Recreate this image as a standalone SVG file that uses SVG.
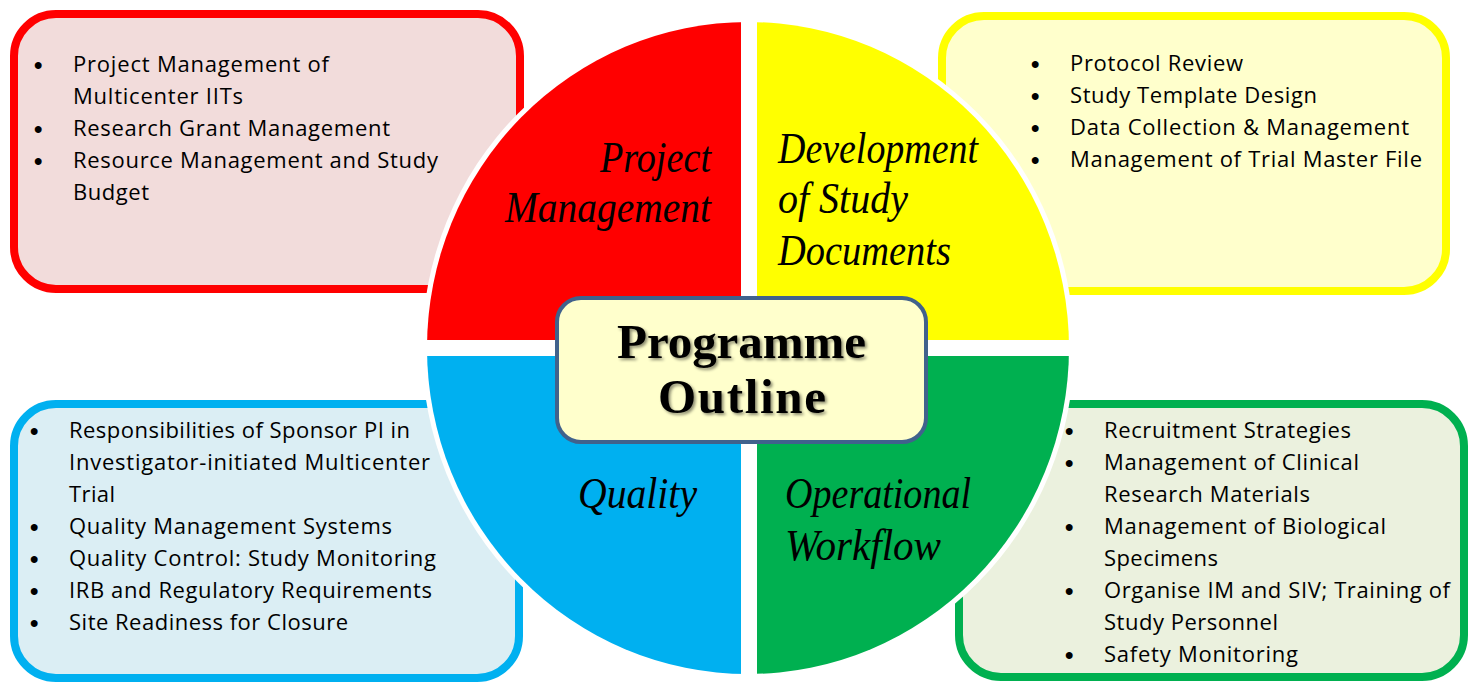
<svg xmlns="http://www.w3.org/2000/svg" width="1472" height="683" viewBox="0 0 1472 683">
<style>
.box{stroke-width:8}
.t{font-family:"Open Sans","Liberation Sans",sans-serif;font-size:22px;fill:#000}
.b{font-family:"Liberation Sans",sans-serif;font-size:24px;font-weight:bold;fill:#000}
.lbl{font-family:"Liberation Serif",serif;font-style:italic;font-size:45px;fill:#000}
.ctr{font-family:"Liberation Serif",serif;font-weight:bold;font-size:49px;fill:#000}
</style>
<defs>
<clipPath id="circ"><ellipse cx="748" cy="348" rx="321" ry="326"/></clipPath>
<filter id="sh" x="-10%" y="-20%" width="120%" height="140%"><feDropShadow dx="2" dy="2" stdDeviation="1.5" flood-color="#000" flood-opacity="0.45"/></filter>
</defs>
<rect width="1472" height="683" fill="#fff"/>

<g id="box-project">
<rect class="box" x="14" y="14" width="506" height="275" rx="42" fill="#f2dcdb" stroke="#ff0000"/>
<text class="b" x="34" y="73">•</text><text class="t" x="73" y="72" textLength="256">Project Management of</text>
<text class="t" x="73" y="104" textLength="170">Multicenter IITs</text>
<text class="b" x="34" y="137">•</text><text class="t" x="73" y="136" textLength="317">Research Grant Management</text>
<text class="b" x="34" y="169">•</text><text class="t" x="73" y="168" textLength="365">Resource Management and Study</text>
<text class="t" x="73" y="200" textLength="76">Budget</text>
</g>

<g id="box-documents">
<rect class="box" x="942" y="16" width="504" height="275" rx="42" fill="#ffffcc" stroke="#ffff00"/>
<text class="b" x="1031" y="72">•</text><text class="t" x="1070" y="71" textLength="173">Protocol Review</text>
<text class="b" x="1031" y="104">•</text><text class="t" x="1070" y="103" textLength="247">Study Template Design</text>
<text class="b" x="1031" y="136">•</text><text class="t" x="1070" y="135" textLength="339">Data Collection &amp; Management</text>
<text class="b" x="1031" y="168">•</text><text class="t" x="1070" y="167" textLength="352">Management of Trial Master File</text>
</g>

<g id="box-quality">
<rect class="box" x="14" y="404" width="505" height="274" rx="42" fill="#dbeef4" stroke="#00b0f0"/>
<text class="b" x="30" y="439">•</text><text class="t" x="69" y="438" textLength="341">Responsibilities of Sponsor PI in</text>
<text class="t" x="69" y="470" textLength="361">Investigator-initiated Multicenter</text>
<text class="t" x="69" y="502" textLength="46">Trial</text>
<text class="b" x="30" y="535">•</text><text class="t" x="69" y="534" textLength="323">Quality Management Systems</text>
<text class="b" x="30" y="567">•</text><text class="t" x="69" y="566" textLength="367">Quality Control: Study Monitoring</text>
<text class="b" x="30" y="599">•</text><text class="t" x="69" y="598" textLength="363">IRB and Regulatory Requirements</text>
<text class="b" x="30" y="631">•</text><text class="t" x="69" y="630" textLength="279">Site Readiness for Closure</text>
</g>

<g id="box-workflow">
<rect class="box" x="959" y="404" width="505" height="273" rx="42" fill="#ebf1de" stroke="#00b050"/>
<text class="b" x="1065" y="439">•</text><text class="t" x="1104" y="438" textLength="247">Recruitment Strategies</text>
<text class="b" x="1065" y="471">•</text><text class="t" x="1104" y="470" textLength="255">Management of Clinical</text>
<text class="t" x="1104" y="502" textLength="206">Research Materials</text>
<text class="b" x="1065" y="535">•</text><text class="t" x="1104" y="534" textLength="282">Management of Biological</text>
<text class="t" x="1104" y="566" textLength="114">Specimens</text>
<text class="b" x="1065" y="599">•</text><text class="t" x="1104" y="598" textLength="346">Organise IM and SIV; Training of</text>
<text class="t" x="1104" y="630" textLength="174">Study Personnel</text>
<text class="b" x="1065" y="663">•</text><text class="t" x="1104" y="662" textLength="194">Safety Monitoring</text>
</g>

<ellipse cx="748" cy="348" rx="326" ry="331" fill="#fff"/>

<g clip-path="url(#circ)">
<g id="q-project">
<rect x="400" y="0" width="341" height="340" fill="#ff0000"/>
</g>
<g id="q-documents">
<rect x="757" y="0" width="341" height="340" fill="#ffff00"/>
</g>
<g id="q-quality">
<rect x="400" y="356" width="341" height="340" fill="#00b0f0"/>
</g>
<g id="q-workflow">
<rect x="757" y="356" width="341" height="340" fill="#00b050"/>
</g>
</g>

<g id="labels">
<text class="lbl" x="600" y="172" textLength="111" lengthAdjust="spacingAndGlyphs">Project</text>
<text class="lbl" x="505" y="222" textLength="206" lengthAdjust="spacingAndGlyphs">Management</text>
<text class="lbl" x="778" y="163" textLength="200" lengthAdjust="spacingAndGlyphs">Development</text>
<text class="lbl" x="778" y="213" textLength="130" lengthAdjust="spacingAndGlyphs">of Study</text>
<text class="lbl" x="778" y="265" textLength="173" lengthAdjust="spacingAndGlyphs">Documents</text>
<text class="lbl" x="578" y="508" textLength="119" lengthAdjust="spacingAndGlyphs">Quality</text>
<text class="lbl" x="785" y="508" textLength="186" lengthAdjust="spacingAndGlyphs">Operational</text>
<text class="lbl" x="785" y="560" textLength="156" lengthAdjust="spacingAndGlyphs">Workflow</text>
</g>

<g id="center">
<rect x="557" y="298" width="369" height="144" rx="24" fill="#ffffcc" stroke="#41628c" stroke-width="4"/>
<g filter="url(#sh)">
<text class="ctr" x="617" y="358" textLength="249">Programme</text>
<text class="ctr" x="658" y="413" textLength="168">Outline</text>
</g>
</g>

<g id="connectors"/>
</svg>
